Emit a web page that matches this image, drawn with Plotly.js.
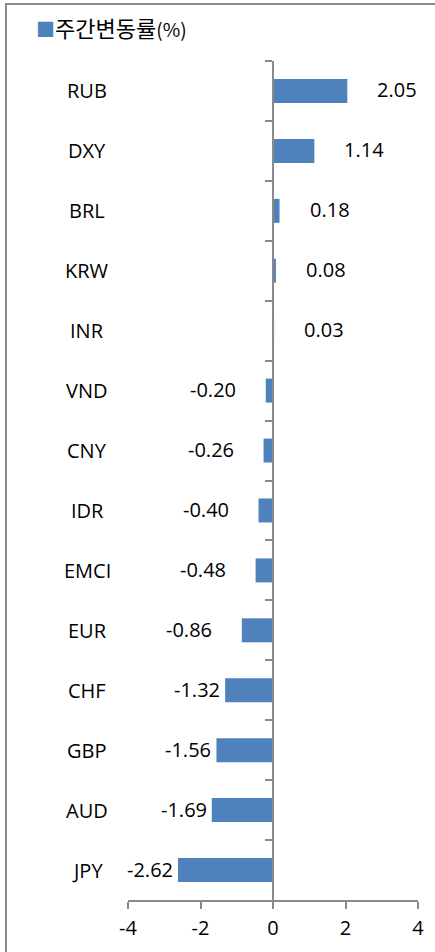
<!DOCTYPE html>
<html>
<head>
<meta charset="utf-8">
<script src="https://cdn.plot.ly/plotly-3.0.1.min.js"></script>
<style>
  html, body { margin: 0; padding: 0; background: #fff; }
  #wrap { position: relative; width: 435px; height: 952px; overflow: hidden; }
  #chart { width: 435px; height: 952px; }
  #frame { position: absolute; left: 5px; top: 3px; width: 460px; height: 980px;
           border-left: 2px solid #8a8a8a; border-top: 2px solid #8a8a8a; pointer-events: none; }
</style>
</head>
<body>
<div id="wrap">
  <div id="chart"></div>
  <div id="frame"></div>
</div>
<script>
const categories = ["RUB", "DXY", "BRL", "KRW", "INR", "VND", "CNY", "IDR", "EMCI", "EUR", "CHF", "GBP", "AUD", "JPY"];
const values = [2.05, 1.14, 0.18, 0.08, 0.03, -0.20, -0.26, -0.40, -0.48, -0.86, -1.32, -1.56, -1.69, -2.62];
const seriesName = "주간변동률";
const xTicks = [-4, -2, 0, 2, 4];

const barColor = "#4F81BD";
const axisColor = "#8a8a8a";
const latinFont = "Open Sans, Noto Sans, sans-serif";
const textFont = { family: latinFont, size: 20, color: "#000" };

const labelAnnotations = values.map((v, i) => ({
  x: v, y: categories[i], xref: "x", yref: "y",
  text: v.toFixed(2), showarrow: false,
  xanchor: v >= 0 ? "left" : "right",
  xshift: (v > -1 ? 28 : 3) * (v >= 0 ? 1 : -1),
  yshift: 1,
  font: textFont
}));

const categoryAnnotations = categories.map(c => ({
  x: -0.141, y: c, xref: "paper", yref: "y",
  text: c, showarrow: false, xanchor: "center",
  font: textFont
}));

const trace = {
  type: "bar", orientation: "h",
  x: values, y: categories, name: seriesName,
  width: 0.4,
  marker: { color: barColor },
  hoverinfo: "x+y",
  showlegend: false
};

const layout = {
  width: 435, height: 952,
  margin: { l: 128, r: 17, t: 61, b: 52 },
  paper_bgcolor: "#fff", plot_bgcolor: "#fff",
  showlegend: false,
  xaxis: {
    range: [-4, 4], tickvals: xTicks, ticktext: xTicks.map(String),
    showgrid: false, zeroline: false,
    showline: true, linecolor: axisColor, linewidth: 2,
    ticks: "outside", ticklen: 7, tickcolor: axisColor, tickwidth: 2,
    tickfont: { family: latinFont, size: 20, color: "#000" },
    ticklabelstandoff: 2
  },
  yaxis: {
    type: "category", autorange: "reversed",
    anchor: "free", position: 0.5,
    showgrid: false, zeroline: false,
    showline: true, linecolor: axisColor, linewidth: 2,
    ticks: "outside", ticklen: 7, tickcolor: axisColor, tickwidth: 2,
    tickson: "boundaries",
    showticklabels: false
  },
  annotations: labelAnnotations.concat(categoryAnnotations).concat([{
    xref: "paper", yref: "paper",
    x: -0.325, y: 1.0, xanchor: "left", yanchor: "bottom", yshift: 16,
    showarrow: false,
    text: "<span style='color:" + barColor + "; font-size:19px'>■</span>" + seriesName + "<span style='font-size:19px'>(%)</span>",
    font: { family: "Noto Sans CJK KR, " + latinFont, size: 22, color: "#000" }
  }])
};

Plotly.newPlot("chart", [trace], layout, { displayModeBar: false, staticPlot: true });
</script>
</body>
</html>
